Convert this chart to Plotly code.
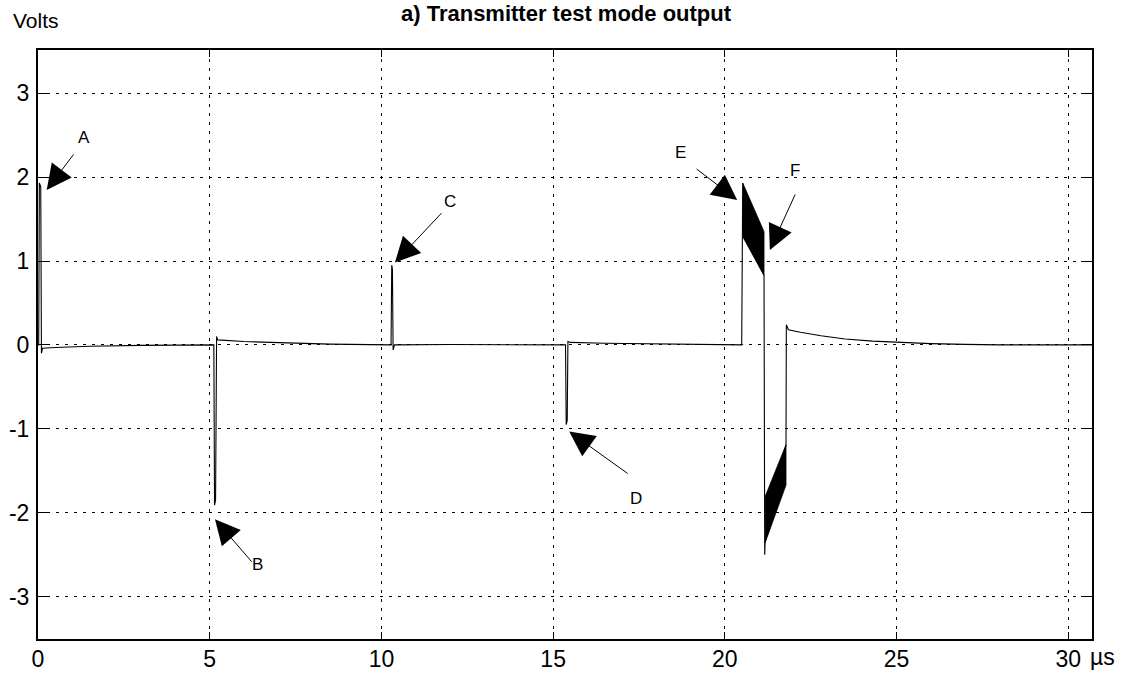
import plotly.graph_objects as go

# ---- data ----
time_us = [0.0, 0.02, 0.04, 0.08, 0.10, 0.13, 0.5, 1.5, 3.0,
           5.12, 5.14, 5.17, 5.20, 5.23, 6.0, 7.0, 8.5,
           10.28, 10.30, 10.32, 10.34, 10.38, 12.0,
           15.36, 15.38, 15.41, 15.43, 15.50, 16.5, 18.0,
           20.49, 20.52, 20.55, 21.14, 21.16, 21.17, 21.78, 21.79,
           21.85, 22.2, 22.8, 23.5, 24.3, 25.0, 26.0, 27.0, 28.0, 30.69]
volts = [0.0, 0.0, 1.93, 1.88, -0.10, -0.04, -0.03, -0.015, -0.005,
         0.0, -1.91, -1.85, 0.10, 0.06, 0.04, 0.025, 0.01,
         0.0, 0.95, 0.90, -0.06, 0.0, 0.005,
         0.0, -0.95, -0.90, 0.04, 0.03, 0.02, 0.01,
         0.0, 1.93, 1.29, 0.83, -2.50, -2.36, -1.19, 0.24,
         0.18, 0.15, 0.11, 0.07, 0.045, 0.03, 0.015, 0.006, 0.0, 0.0]

# oscillation envelopes (dense carrier drawn as filled band)
band_e_t = [20.52, 21.14]
band_e_hi = [1.93, 1.35]
band_e_lo = [1.29, 0.83]
band_f_t = [21.17, 21.78]
band_f_hi = [-1.81, -1.19]
band_f_lo = [-2.36, -1.67]

x_ticks = [0, 5, 10, 15, 20, 25, 30]
x_tick_text = ["0", "5", "10", "15", "20", "25", "30"]
y_ticks = [-3, -2, -1, 0, 1, 2, 3]
y_tick_text = ["-3", "-2", "-1", "0", "1", "2", "3"]

marker_labels = ["A", "B", "C", "D", "E", "F"]
marker_tip_t = [0.253, 5.153, 10.393, 15.467, 20.358, 21.31]
marker_tip_v = [1.847, -2.077, 0.981, -1.033, 1.728, 1.132]
marker_text_t = [1.339, 6.390, 11.994, 17.409, 18.719, 22.03]
marker_text_v = [2.473, -2.622, 1.708, -1.836, 2.288, 2.074]

# layout-only: arrow tail offsets in pixels
arrow_offsets = [(28, -37), (38, 44), (48, -51), (60, 43), (-42, -32), (26, -57)]

FONT = "Liberation Sans, Arial, sans-serif"

fig = go.Figure()

for bt, hi, lo in [(band_e_t, band_e_hi, band_e_lo), (band_f_t, band_f_hi, band_f_lo)]:
    fig.add_trace(go.Scatter(
        x=bt + bt[::-1], y=hi + lo[::-1], mode="lines", fill="toself",
        fillcolor="black", line=dict(color="black", width=0.8),
        hoverinfo="skip", showlegend=False))

fig.add_trace(go.Scatter(x=time_us, y=volts, mode="lines",
                         line=dict(color="black", width=1.1),
                         showlegend=False))

annotations = []
for lab, tt, tv, lt, lv, (ax, ay) in zip(marker_labels, marker_tip_t, marker_tip_v,
                                         marker_text_t, marker_text_v, arrow_offsets):
    annotations.append(dict(x=tt, y=tv, xref="x", yref="y", text="", showarrow=True,
                            ax=ax, ay=ay, arrowhead=2, arrowsize=5, arrowwidth=1,
                            arrowcolor="black", standoff=0, startstandoff=0))
    annotations.append(dict(x=lt, y=lv, xref="x", yref="y", text=lab, showarrow=False,
                            font=dict(family=FONT, size=17, color="black"),
                            xanchor="center", yanchor="middle"))

annotations.append(dict(x=0.5018, y=1.0628, xref="paper", yref="paper",
                        text="<b>a) Transmitter test mode output</b>", showarrow=False,
                        font=dict(family=FONT, size=22, color="black"),
                        xanchor="center", yanchor="middle"))
annotations.append(dict(x=-0.0260, y=1.0500, xref="paper", yref="paper",
                        text="Volts", showarrow=False,
                        font=dict(family=FONT, size=21, color="black"),
                        xanchor="left", yanchor="middle"))
annotations.append(dict(x=1.0101, y=-0.0306, xref="paper", yref="paper",
                        text="µs", showarrow=False,
                        font=dict(family=FONT, size=23, color="black"),
                        xanchor="center", yanchor="middle"))

axis_common = dict(
    showline=True, linewidth=2, linecolor="black", mirror="ticks",
    ticks="inside", tickcolor="black", tickwidth=1, automargin=False,
    showgrid=True, gridcolor="black", gridwidth=1, griddash="3px,6px",
    zeroline=False, tickfont=dict(family=FONT, size=23, color="black"),
)

fig.update_layout(
    width=1128, height=674,
    margin=dict(l=38, r=36, t=50, b=35),
    paper_bgcolor="white", plot_bgcolor="white",
    xaxis=dict(range=[0, 30.69], tickvals=x_ticks, ticktext=x_tick_text,
               ticklen=7, ticklabelstandoff=-2, **axis_common),
    yaxis=dict(range=[-3.505, 3.515], tickvals=y_ticks, ticktext=y_tick_text,
               ticklen=11, ticklabelstandoff=2, **axis_common),
    annotations=annotations,
    showlegend=False,
)

fig.write_html("out.html", config={"displayModeBar": False},
               post_script="document.body.style.margin='0';document.body.style.padding='0';")
